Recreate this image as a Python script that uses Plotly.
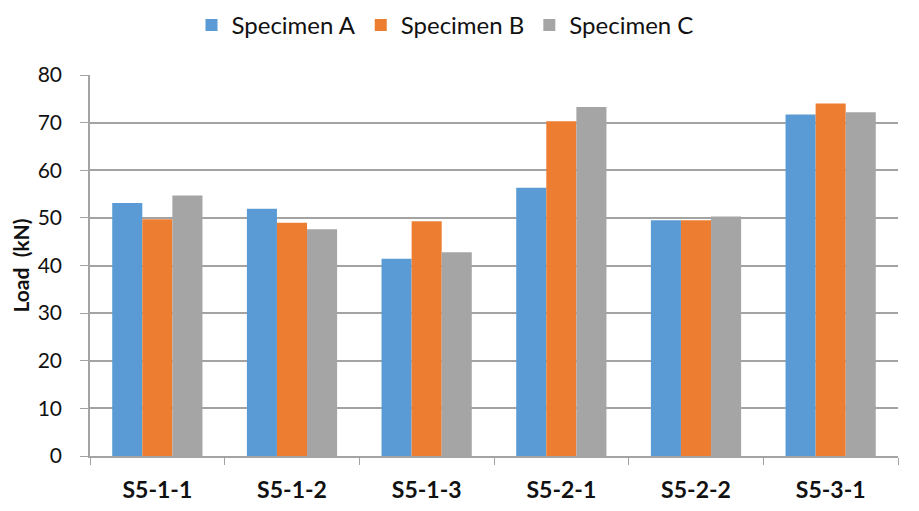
import plotly.graph_objects as go

categories = ["S5-1-1", "S5-1-2", "S5-1-3", "S5-2-1", "S5-2-2", "S5-3-1"]
specimen_a = [53.1, 51.9, 41.4, 56.3, 49.5, 71.7]
specimen_b = [49.7, 49.0, 49.3, 70.3, 49.5, 74.0]
specimen_c = [54.7, 47.6, 42.8, 73.3, 50.3, 72.2]
series_names = ["Specimen A", "Specimen B", "Specimen C"]
colors = ["#5b9bd5", "#ed7d31", "#a5a5a5"]
y_ticks = [0, 10, 20, 30, 40, 50, 60, 70, 80]

FONT = "Lato, 'Noto Sans', sans-serif"
AXIS_GRAY = "#a3a3a3"
W, H = 911, 503  # page body has an 8px margin

fig = go.Figure()
for name, vals, col in zip(series_names, [specimen_a, specimen_b, specimen_c], colors):
    fig.add_trace(go.Bar(x=categories, y=vals, name=name, marker=dict(color=col, line=dict(width=0))))

fig.update_layout(
    width=W, height=H,
    margin=dict(l=82, r=21, t=67, b=55, autoexpand=False),
    paper_bgcolor="white", plot_bgcolor="white",
    barmode="group", bargap=0.33, bargroupgap=0,
    font=dict(family=FONT, color="#111111"),
    legend=dict(orientation="h", xref="container", yref="container",
                x=437 / W, xanchor="center", y=1 - 17.5 / H, yanchor="middle",
                font=dict(size=24, color="#111111"), itemwidth=30,
                traceorder="normal"),
    showlegend=True,
)
fig.update_xaxes(
    showline=True, linecolor=AXIS_GRAY, linewidth=1.5,
    ticks="outside", tickson="boundaries", ticklen=7, tickcolor=AXIS_GRAY,
    tickfont=dict(size=23, family=FONT, color="#111111", weight="bold"),
    ticklabelstandoff=13,
    showgrid=False, automargin=False,
)
fig.update_yaxes(
    range=[0, 80], tickvals=y_ticks,
    showline=True, linecolor=AXIS_GRAY, linewidth=1.5,
    ticks="outside", ticklen=8, tickcolor=AXIS_GRAY,
    ticklabelstandoff=14,
    showgrid=True, gridcolor=AXIS_GRAY, gridwidth=1.5,
    zeroline=False, automargin=False,
    tickfont=dict(size=21, family=FONT, color="#111111"),
    title=dict(text="Load  (kN)", font=dict(size=21, family=FONT, color="#111111", weight="bold"), standoff=12),
)

fig.write_html("out.html")
